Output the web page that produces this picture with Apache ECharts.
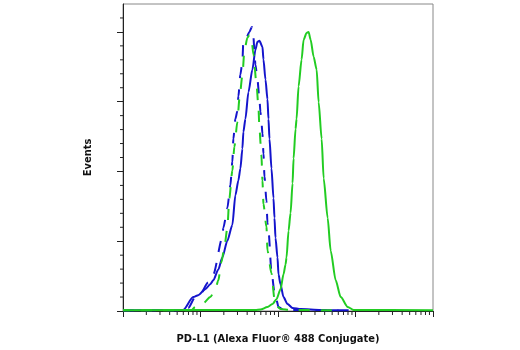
<!DOCTYPE html>
<html>
<head>
<meta charset="utf-8">
<script src="https://cdn.jsdelivr.net/npm/echarts@6/dist/echarts.min.js"></script>
<style>
html, body { margin: 0; padding: 0; background: #fff; }
#main { width: 520px; height: 350px; }
</style>
</head>
<body>
<div id="main"></div>
<script>
// fluorescence (log) , events
var blueSolid = [
	[1, 1], [5.98, 1.4], [8.06, 19.9], [9.35, 22.7], [11.52, 31.2], [13.37, 38.3], [14.62, 44],
	[16.98, 59.6], [19.12, 76.6], [22.2, 100.7], [25.77, 123.4], [28.18, 166], [30.82, 187.2],
	[32.71, 204.3], [34.71, 232.6], [35.76, 256.7], [37.96, 275.2], [41.51, 313.5], [46.77, 346.1],
	[51.13, 374.5], [54.28, 385.8], [57.62, 387.2], [63.01, 378.7], [64.92, 360.3], [68.91, 331.9],
	[73.13, 303.5], [75.34, 275.2], [77.62, 246.8], [82.39, 204.3], [87.47, 161.7], [90.09, 133.3],
	[92.81, 104.9], [98.51, 76.6], [101.5, 52.5], [107.7, 38.3], [117.8, 19.9], [132.7, 9.9],
	[154.1, 4.3], [195.6, 2.8], [355, 1.4], [600, 1]
];
var blueDashed = [
	[1, 1], [6.3, 1], [6.94, 4.3], [8.55, 19.9], [9.93, 24.1], [12.6, 41.1], [14.62, 52.5], [19.12, 105],
	[19.7, 119.1], [21.54, 137.6], [22.2, 147.5], [24.28, 180.1], [25.77, 214.2], [26.55, 246.8],
	[28.18, 275.2], [29.91, 286.5], [30.82, 307.8], [32.71, 339], [34.71, 357.4], [35.76, 388.7],
	[39.1, 391.5], [42.77, 400], [46.0, 407.1], [48.19, 392.9], [49.64, 371.6], [51.13, 353.2],
	[54.28, 331.9], [57.62, 303.5], [59.36, 285.1], [61.15, 270.9], [63.01, 253.9], [64.92, 225.5],
	[66.88, 192.9], [70.99, 157.4], [73.13, 126.2], [75.34, 114.9], [82.39, 56.7], [90.09, 27],
	[95.63, 15.6], [101.5, 5.7], [114.4, 2.8], [145.2, 1.4], [950, 1]
];
var greenDashed = [
	[1, 1], [7.6, 1], [8.55, 5.7], [10.85, 11.3], [13.37, 19.9], [15.52, 31.2], [16.98, 44], [18.56, 69.5],
	[20.3, 90.8], [22.2, 119.1], [23.56, 161.7], [25.77, 201.4], [27.35, 235.5], [29.91, 270.9],
	[31.74, 303.5], [34.71, 337.6], [36.85, 373], [40.28, 391.5], [42.77, 395.7], [45.39, 391.5],
	[48.19, 367.4], [52.69, 326.2], [55.93, 292.2], [57.62, 261], [61.15, 222.7], [63.01, 187.2],
	[64.92, 153.2], [70.99, 120.6], [73.13, 86.5], [82.39, 53.9], [90.09, 17], [95.63, 7.1],
	[107.7, 2.8], [145.2, 1.4], [600, 1]
];
var greenSolid = [
	[1, 1], [51.13, 1.4], [59.36, 2.1], [73.13, 5.7], [84.9, 9.9], [95.63, 17], [107.7, 31.2],
	[117.8, 52.5], [125.1, 66.7], [128.8, 76.6], [136.8, 114.9], [145.2, 140.4], [154.1, 183],
	[158.8, 218.4], [168.5, 261], [173.6, 275.2], [184.3, 322], [201.5, 360.3], [213.9, 388.7],
	[233.8, 398.6], [248.3, 400], [263.5, 388.7], [288.2, 364.5], [315.1, 346.1], [334.5, 299.3],
	[365.7, 246.8], [388.2, 190.1], [437.3, 133.3], [478.2, 86.5], [555.1, 44], [644.5, 19.9],
	[793.7, 5.7], [949.2, 1.4], [10000, 1]
];
var xMajorTicks = [1, 10, 100, 1000, 10000];
var xMinorTicks = [
	2, 3, 4, 5, 6, 7, 8, 9,
	20, 30, 40, 50, 60, 70, 80, 90,
	200, 300, 400, 500, 600, 700, 800, 900,
	2000, 3000, 4000, 5000, 6000, 7000, 8000, 9000
];
var yMajorTicks = [0, 100, 200, 300, 400];
var yMinorTicks = [20, 40, 60, 80, 120, 140, 160, 180, 220, 240, 260, 280, 320, 340, 360, 380, 420];

var blue = '#1414cc';
var green = '#22cc22';
var nameFont = '"Liberation Sans Narrow", "DejaVu Sans Condensed", sans-serif';

var myChart = echarts.init(document.getElementById('main'));
var option = {
	animation: false,
	grid: {
		left: 123,
		top: 4,
		right: 87,
		bottom: 36,
		show: true,
		borderColor: '#888',
		borderWidth: 1
	},
	xAxis: {
		type: 'log',
		logBase: 10,
		min: 1,
		max: 10000,
		interval: 1,
		name: 'PD-L1 (Alexa Fluor® 488 Conjugate)',
		nameLocation: 'middle',
		nameGap: 23,
		nameTextStyle: { color: '#111', fontWeight: 'bold', fontSize: 11, fontFamily: nameFont },
		axisLine: { lineStyle: { color: '#222', width: 1 } },
		axisTick: { show: true, length: 6, customValues: xMajorTicks, lineStyle: { color: '#222' } },
		axisLabel: { show: false },
		splitLine: { show: false }
	},
	yAxis: {
		type: 'value',
		min: 0,
		max: 440,
		interval: 100,
		name: 'Events',
		nameLocation: 'middle',
		nameGap: 29,
		nameTextStyle: { color: '#111', fontWeight: 'bold', fontSize: 11, fontFamily: nameFont },
		axisLine: { show: true, lineStyle: { color: '#222', width: 1 } },
		axisTick: { show: true, length: 6, customValues: yMajorTicks, lineStyle: { color: '#222' } },
		axisLabel: { show: false },
		splitLine: { show: false }
	},
	series: [
		{
			type: 'custom',
			silent: true,
			clip: false,
			data: xMinorTicks.map(function (v) { return [v, 0]; }),
			renderItem: function (params, api) {
				var p = api.coord([api.value(0), 0]);
				return {
					type: 'line',
					shape: { x1: p[0], y1: p[1], x2: p[0], y2: p[1] + 4 },
					style: { stroke: '#222', lineWidth: 1 }
				};
			}
		},
		{
			type: 'custom',
			silent: true,
			clip: false,
			data: yMinorTicks.map(function (v) { return [1, v]; }),
			renderItem: function (params, api) {
				var p = api.coord([1, api.value(1)]);
				return {
					type: 'line',
					shape: { x1: p[0] - 3, y1: p[1], x2: p[0], y2: p[1] },
					style: { stroke: '#222', lineWidth: 1 }
				};
			}
		},
		{
			type: 'line',
			data: blueSolid,
			showSymbol: false,
			smooth: 0.25,
			smoothMonotone: 'x',
			lineStyle: { color: blue, width: 2 }
		},
		{
			type: 'line',
			data: blueDashed,
			showSymbol: false,
			smooth: 0.25,
			smoothMonotone: 'x',
			lineStyle: { color: blue, width: 2, type: [11, 11] }
		},
		{
			type: 'line',
			data: greenDashed,
			showSymbol: false,
			smooth: 0.25,
			smoothMonotone: 'x',
			lineStyle: { color: green, width: 2, type: [11, 11], dashOffset: 4 }
		},
		{
			type: 'line',
			data: greenSolid,
			showSymbol: false,
			smooth: 0.25,
			smoothMonotone: 'x',
			lineStyle: { color: green, width: 2 }
		}
	]
};
myChart.setOption(option);
window.onresize = function () {
	myChart.resize();
};
</script>
</body>
</html>
